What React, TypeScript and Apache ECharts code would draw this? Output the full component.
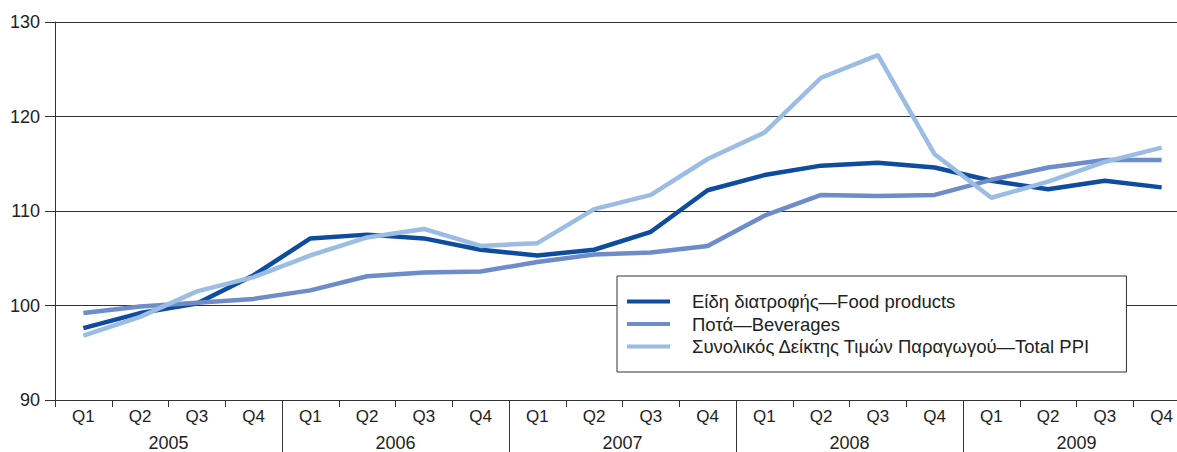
import React, { useEffect, useRef } from "react";
import * as echarts from "echarts";

const years = ["2005", "2006", "2007", "2008", "2009"];
const quarters = ["Q1", "Q2", "Q3", "Q4"];
const yTicks = { min: 90, max: 130, interval: 10 };

const seriesNames = [
  "Είδη διατροφής—Food products",
  "Ποτά—Beverages",
  "Συνολικός Δείκτης Τιμών Παραγωγού—Total PPI",
];

const foodProducts = [
  97.6, 99.2, 100.2, 103.2,
  107.1, 107.5, 107.1, 105.9,
  105.3, 105.9, 107.8, 112.2,
  113.8, 114.8, 115.1, 114.6,
  113.2, 112.3, 113.2, 112.5,
];
const beverages = [
  99.2, 99.9, 100.3, 100.7,
  101.6, 103.1, 103.5, 103.6,
  104.6, 105.4, 105.6, 106.3,
  109.5, 111.7, 111.6, 111.7,
  113.3, 114.6, 115.4, 115.4,
];
const totalPPI = [
  96.8, 98.8, 101.5, 103.0,
  105.3, 107.2, 108.1, 106.3,
  106.6, 110.2, 111.7, 115.5,
  118.3, 124.1, 126.5, 116.0,
  111.4, 113.1, 115.2, 116.7,
];

const colors = ["#0d4c9f", "#6d8cc9", "#9bbce3"];

export default function App() {
  const ref = useRef<HTMLDivElement>(null);
  useEffect(() => {
    if (!ref.current) return;
    const chart = echarts.init(ref.current, null, { renderer: "svg" });
    const font = "'Liberation Sans', Arial, Helvetica, sans-serif";
    const txt = "#222";
    const lineCol = "#333";
    const categories = years.flatMap((y) => quarters.map((q) => `${q}|${y}`));
    const values = [foodProducts, beverages, totalPPI];
    const nQ = quarters.length;
    const nAll = categories.length;
    const yearBounds = years.slice(1).map((_, i) => (i + 1) * nQ);
    const yearMids = years.map((_, i) => i * nQ + nQ / 2);
    chart.setOption({
      animation: false,
      color: colors,
      grid: {
        left: 55,
        width: 1135,
        top: 22,
        height: 378,
        containLabel: false,
        outerBoundsMode: "none",
      },
      legend: {
        show: true,
        orient: "vertical",
        left: 617,
        top: 276,
        padding: [16, 36, 16, 10],
        backgroundColor: "#fff",
        borderColor: lineCol,
        borderWidth: 1,
        icon: "rect",
        itemWidth: 43,
        itemHeight: 4,
        itemGap: 3.5,
        selectedMode: false,
        data: seriesNames,
        textStyle: {
          fontFamily: font,
          fontSize: 18.5,
          color: txt,
          lineHeight: 17,
          padding: [0, 0, 0, 17],
        },
      },
      xAxis: [
        {
          type: "category",
          data: categories,
          boundaryGap: true,
          axisLine: { show: true, lineStyle: { color: lineCol, width: 1 } },
          axisTick: { show: true, length: 7, lineStyle: { color: lineCol } },
          axisLabel: {
            margin: 8,
            fontFamily: font,
            fontSize: 17,
            color: txt,
            formatter: (v: string) => v.split("|")[0],
          },
          splitLine: { show: false },
        },
        {
          type: "value",
          min: 0,
          max: nAll,
          position: "bottom",
          offset: 0,
          axisLine: { show: false },
          axisTick: {
            show: true,
            length: 52,
            lineStyle: { color: lineCol },
            customValues: yearBounds,
          },
          axisLabel: {
            margin: 34,
            fontFamily: font,
            fontSize: 18,
            color: txt,
            customValues: yearMids,
            formatter: (v: number) => years[Math.round((v - nQ / 2) / nQ)] ?? "",
          },
          splitLine: { show: false },
        },
      ],
      yAxis: {
        type: "value",
        min: yTicks.min,
        max: yTicks.max,
        interval: yTicks.interval,
        axisLine: { show: true, lineStyle: { color: lineCol, width: 1 } },
        axisTick: { show: true, inside: false, length: 10, lineStyle: { color: lineCol } },
        axisLabel: {
          margin: 15,
          fontFamily: font,
          fontSize: 18,
          color: txt,
        },
        splitLine: { show: true, lineStyle: { color: lineCol, width: 1 } },
      },
      series: seriesNames.map((name, i) => ({
        name,
        type: "line",
        xAxisIndex: 0,
        data: values[i],
        symbol: "none",
        showSymbol: false,
        lineStyle: { width: 4.5, color: colors[i] },
        itemStyle: { color: colors[i] },
        z: 3 + i,
      })),
    });
    return () => chart.dispose();
  }, []);
  return (
    <div
      ref={ref}
      style={{ position: "absolute", left: 0, top: 0, width: 1177, height: 452 }}
    />
  );
}
